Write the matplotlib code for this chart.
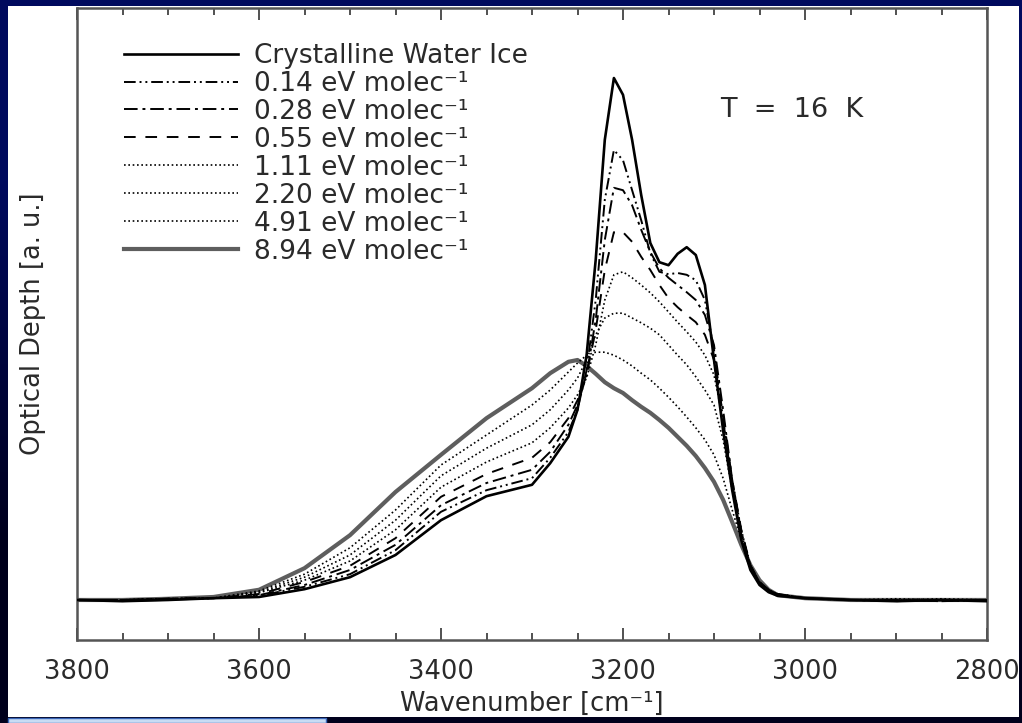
import matplotlib
matplotlib.use("Agg")
import matplotlib.pyplot as plt
import numpy as np
from matplotlib.patches import Rectangle
from matplotlib.colors import LinearSegmentedColormap
from matplotlib.ticker import MultipleLocator

# wavenumber grid (cm^-1) and optical depth (a.u.)
wavenumber = [3800, 3750, 3700, 3650, 3600, 3550, 3500, 3450, 3400, 3350, 3300,
              3280, 3260, 3250, 3240, 3230, 3220, 3210, 3200, 3190, 3180, 3170,
              3160, 3150, 3140, 3130, 3120, 3110, 3100, 3090, 3080, 3070, 3060,
              3050, 3040, 3030, 3000, 2950, 2900, 2850, 2800]

crystalline = [0, -0.2, 0, 0.3, 0.5, 1.8, 3.8, 7.5, 13.3, 17.3, 19.2,
               22.8, 27.2, 31.7, 40.8, 56.7, 76.7, 87.0, 84.2, 76.7, 67.5, 59.5,
               56.3, 55.8, 57.7, 58.8, 57.5, 52.5, 40.0, 28.3, 18.3, 10.0, 5.0,
               2.5, 1.3, 0.7, 0.3, 0, -0.2, 0, -0.2]
dose_014 = [0, 0, 0.2, 0.3, 0.7, 2.2, 4.3, 8.3, 14.7, 18.3, 20.3,
            23.7, 28.0, 31.7, 38.3, 50.0, 66.7, 75.0, 73.3, 68.3, 63.3, 57.8,
            54.7, 54.3, 54.5, 54.2, 53.3, 50.0, 41.7, 30.0, 19.2, 10.8, 5.3,
            2.7, 1.5, 0.8, 0.3, 0, 0, -0.2, 0]
dose_028 = [0, 0, 0.2, 0.3, 0.8, 2.5, 5.0, 9.2, 15.8, 19.5, 21.7,
            24.7, 29.2, 32.5, 37.5, 46.7, 60.0, 68.7, 68.3, 65.8, 61.7, 58.0,
            55.3, 53.7, 52.5, 51.3, 50.0, 47.5, 42.5, 31.7, 20.0, 11.3, 5.7,
            2.8, 1.7, 0.8, 0.3, 0, -0.2, 0, 0]
dose_055 = [0, 0, 0.2, 0.3, 1.0, 3.0, 5.7, 10.3, 17.2, 21.0, 23.7,
            26.3, 30.3, 33.3, 37.5, 45.0, 55.0, 61.3, 61.3, 59.7, 57.2, 55.0,
            52.5, 50.3, 48.8, 47.5, 46.3, 44.2, 40.0, 30.8, 20.0, 11.7, 5.8,
            3.0, 1.7, 1.0, 0.3, 0, 0, -0.2, 0]
dose_111 = [0, 0, 0.2, 0.3, 1.2, 3.3, 6.5, 11.7, 18.8, 23.0, 26.2,
            28.7, 32.0, 34.2, 37.0, 42.5, 50.0, 54.2, 54.7, 53.7, 52.5, 51.2,
            49.7, 48.0, 46.3, 44.7, 43.0, 40.8, 37.5, 30.0, 20.0, 11.7, 5.8,
            3.0, 1.7, 1.0, 0.3, 0, 0.2, 0, 0]
dose_220 = [0, 0, 0.2, 0.3, 1.3, 3.8, 7.5, 13.3, 20.7, 25.3, 29.2,
            31.7, 35.0, 37.0, 40.0, 44.2, 47.0, 47.8, 47.8, 47.0, 46.2, 45.3,
            44.2, 42.5, 40.8, 39.2, 37.2, 35.0, 32.5, 26.7, 18.3, 11.2, 5.8,
            3.0, 1.7, 1.0, 0.3, 0, 0, 0.2, 0]
dose_491 = [0, 0, 0.2, 0.3, 1.5, 4.3, 8.7, 15.0, 22.5, 27.5, 32.5,
            35.0, 38.0, 39.5, 40.8, 41.3, 41.3, 40.8, 40.0, 39.0, 37.8, 36.7,
            35.3, 33.8, 32.2, 30.5, 28.7, 26.7, 24.2, 20.3, 15.0, 10.0, 5.7,
            3.0, 1.7, 1.0, 0.3, 0, 0, 0, 0]
dose_894 = [0, 0, 0.2, 0.5, 1.7, 5.3, 10.8, 18.0, 24.2, 30.3, 35.3,
            37.8, 39.7, 40.0, 39.0, 37.7, 36.3, 35.3, 34.5, 33.3, 32.2, 31.2,
            30.0, 28.7, 27.2, 25.7, 24.0, 22.0, 19.7, 16.7, 13.0, 9.2, 5.8,
            3.3, 1.7, 0.8, 0.3, 0, 0, 0, 0]

labels = ["Crystalline Water Ice",
          "0.14 eV molec\u207b\u00b9", "0.28 eV molec\u207b\u00b9",
          "0.55 eV molec\u207b\u00b9", "1.11 eV molec\u207b\u00b9",
          "2.20 eV molec\u207b\u00b9", "4.91 eV molec\u207b\u00b9",
          "8.94 eV molec\u207b\u00b9"]

W, H = 1022, 723
fig = plt.figure(figsize=(W / 100, H / 100), dpi=100)

# dark blue slide background
bg = fig.add_axes([0, 0, 1, 1])
bg.set_zorder(-5)
cmap = LinearSegmentedColormap.from_list("bg", ["#00001c", "#000a5e"])
bg.imshow(np.array([[0.0], [1.0]]), cmap=cmap, aspect="auto", origin="lower",
          extent=[0, 1, 0, 1], interpolation="bilinear")
bg.axis("off")

fig.add_artist(Rectangle((8 / W, 6 / H), 1011 / W, 711 / H, transform=fig.transFigure,
                         facecolor="white", edgecolor="none", zorder=1))
fig.add_artist(Rectangle((8 / W, 0), 318 / W, 5 / H, transform=fig.transFigure,
                         facecolor="#c8dcf4", edgecolor="#3a66b8", lw=1, zorder=1))

ax = fig.add_axes([77 / W, 83 / H, 910 / W, 632 / H])
ax.set_zorder(2)
ax.set_facecolor("white")

styles = [
    dict(color="black", lw=1.9, ls="-"),
    dict(color="black", lw=1.4, ls=(0, (6, 2, 1, 2, 1, 2))),
    dict(color="black", lw=1.4, ls=(0, (7, 2.5, 1.5, 2.5))),
    dict(color="black", lw=1.4, ls=(0, (6, 5))),
    dict(color="black", lw=1.2, ls=(0, (1, 1.6))),
    dict(color="black", lw=1.2, ls=(0, (1, 1.6))),
    dict(color="black", lw=1.2, ls=(0, (1, 1.6))),
    dict(color="#5e5e5e", lw=3.0, ls="-"),
]
series = [crystalline, dose_014, dose_028, dose_055, dose_111, dose_220, dose_491, dose_894]
for i in range(len(series) - 1, -1, -1):
    ax.plot(wavenumber, series[i], label=labels[i], zorder=10 - i, **styles[i])

ax.set_xlim(3800, 2800)
ax.set_ylim(-6.67, 98.67)
ax.set_yticks([])
ax.xaxis.set_major_locator(MultipleLocator(200))
ax.xaxis.set_minor_locator(MultipleLocator(50))
ax.tick_params(axis="x", which="both", direction="in", top=True, bottom=True,
               color="#333333", labelsize=18.5, labelcolor="#2a2a2a", pad=14)
ax.tick_params(axis="x", which="major", length=8.5, width=1.2)
ax.tick_params(axis="x", which="minor", length=5, width=1.2)
for sp in ax.spines.values():
    sp.set_color("#555555")
    sp.set_linewidth(1.8)

ax.set_xlabel("Wavenumber [cm\u207b\u00b9]", fontsize=18.5, color="#2a2a2a", labelpad=4)
ax.set_ylabel("Optical Depth [a. u.]", fontsize=18.5, color="#2a2a2a", labelpad=22)

ax.text(0.707, 0.838, "T  =  16  K", transform=ax.transAxes, fontsize=19.5,
        color="#2a2a2a", va="center", ha="left")

handles, labs = ax.get_legend_handles_labels()
leg = ax.legend(handles[::-1], labs[::-1], loc="upper left", bbox_to_anchor=(0.052, 0.945),
                frameon=False, fontsize=19, handlelength=4.3, handletextpad=0.6,
                labelspacing=0.075, borderpad=0, borderaxespad=0)
for t in leg.get_texts():
    t.set_color("#2a2a2a")

fig.savefig("out.png", dpi=100, facecolor=fig.get_facecolor())
